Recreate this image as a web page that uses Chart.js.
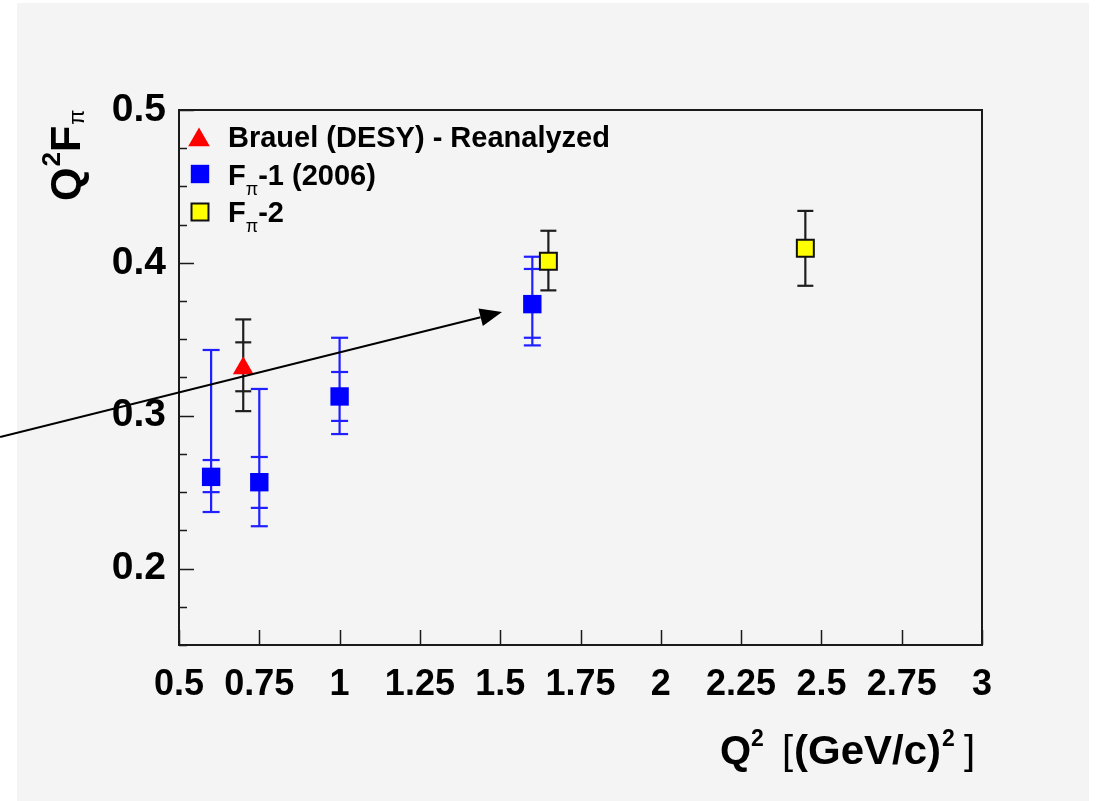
<!DOCTYPE html>
<html><head><meta charset="utf-8">
<script src="https://cdn.jsdelivr.net/npm/chart.js@4/dist/chart.umd.min.js"></script>
<style>html,body{margin:0;padding:0;background:#fff;overflow:hidden}canvas{display:block}</style>
</head><body>
<div style="width:1097px;height:801px"><canvas id="c" width="1097" height="801"></canvas></div>
<script>
// ---- data ----
const brauelX = [0.70];
const brauelY = [0.331];
const brauelStatLo = [0.316], brauelStatHi = [0.348];
const brauelTotLo = [0.303], brauelTotHi = [0.363];

const fpi1X = [0.60, 0.75, 1.00, 1.60];
const fpi1Y = [0.260, 0.2565, 0.3126, 0.373];
const fpi1StatLo = [0.250, 0.2397, 0.2966, 0.351];
const fpi1StatHi = [0.271, 0.273, 0.3286, 0.396];
const fpi1TotLo = [0.237, 0.2277, 0.288, 0.346];
const fpi1TotHi = [0.343, 0.3175, 0.351, 0.404];

const fpi2X = [1.65, 2.45];
const fpi2Y = [0.401, 0.4096];
const fpi2TotLo = [0.382, 0.385];
const fpi2TotHi = [0.421, 0.434];

const xTickValues = [0.5, 0.75, 1, 1.25, 1.5, 1.75, 2, 2.25, 2.5, 2.75, 3];
const xTickLabels = ['0.5', '0.75', '1', '1.25', '1.5', '1.75', '2', '2.25', '2.5', '2.75', '3'];
const yTickValues = [0.2, 0.3, 0.4, 0.5];
const yTickLabels = ['0.2', '0.3', '0.4', '0.5'];
const yMinorStep = 0.025;

const arrowStart = [-0.057, 0.2861];
const arrowEnd = [1.5056, 0.3679];

const legendLabels = ['Brauel (DESY) - Reanalyzed', 'F|π|-1 (2006)', 'F|π|-2'];

const FONT = "'Liberation Sans', Arial, Helvetica, sans-serif";

function pts(xs, ys) { return xs.map((x, i) => ({ x: x, y: ys[i] })); }

function vbar(ctx, xs, ys, x, lo, hi) {
  const px = xs.getPixelForValue(x);
  ctx.beginPath();
  ctx.moveTo(px, ys.getPixelForValue(lo));
  ctx.lineTo(px, ys.getPixelForValue(hi));
  ctx.stroke();
}
function cap(ctx, xs, ys, x, v, half) {
  const px = xs.getPixelForValue(x), py = ys.getPixelForValue(v);
  ctx.beginPath();
  ctx.moveTo(px - half, py);
  ctx.lineTo(px + half, py);
  ctx.stroke();
}

function drawMarker(ctx, style, x, y, r, fill, stroke, lw) {
  ctx.save();
  ctx.fillStyle = fill;
  ctx.beginPath();
  if (style === 'triangle') {
    for (let k = 0; k < 3; k++) {
      const a = -Math.PI / 2 + k * 2 * Math.PI / 3;
      const px = x + r * Math.cos(a), py = y + r * Math.sin(a);
      if (k === 0) ctx.moveTo(px, py); else ctx.lineTo(px, py);
    }
    ctx.closePath();
  } else {
    const s = Math.SQRT1_2 * r;
    ctx.rect(x - s, y - s, 2 * s, 2 * s);
  }
  ctx.fill();
  if (lw) { ctx.lineWidth = lw; ctx.strokeStyle = stroke; ctx.stroke(); }
  ctx.restore();
}

function richText(ctx, text, x, y, big, small, weight) {
  const parts = text.split('|');
  let cx = x;
  parts.forEach((p, i) => {
    if (i % 2 === 1) {
      ctx.font = 'normal ' + small + 'px ' + FONT;
      ctx.fillText(p, cx, y + small * 0.55);
    } else {
      ctx.font = weight + ' ' + big + 'px ' + FONT;
      ctx.fillText(p, cx, y);
    }
    cx += ctx.measureText(p).width;
  });
}

const custom = {
  id: 'custom',
  beforeDraw(chart) {
    const c = chart.ctx;
    c.save();
    c.fillStyle = '#ffffff';
    c.fillRect(0, 0, chart.width, chart.height);
    c.fillStyle = '#f4f4f4';
    c.fillRect(17, 3, 1072, 798);
    c.restore();
  },
  beforeDatasetsDraw(chart) {
    const c = chart.ctx, xs = chart.scales.x, ys = chart.scales.y;
    c.save();
    c.lineWidth = 2.2;
    // Brauel error bars (black)
    c.strokeStyle = '#1e1e1e';
    brauelX.forEach((x, i) => {
      vbar(c, xs, ys, x, brauelTotLo[i], brauelTotHi[i]);
      [brauelTotLo[i], brauelTotHi[i], brauelStatLo[i], brauelStatHi[i]].forEach(v => cap(c, xs, ys, x, v, 8));
    });
    // F_pi-1 error bars (blue)
    c.strokeStyle = '#1f1fff';
    fpi1X.forEach((x, i) => {
      vbar(c, xs, ys, x, fpi1TotLo[i], fpi1TotHi[i]);
      [fpi1TotLo[i], fpi1TotHi[i], fpi1StatLo[i], fpi1StatHi[i]].forEach(v => cap(c, xs, ys, x, v, 8.5));
    });
    // F_pi-2 error bars (black)
    c.strokeStyle = '#1e1e1e';
    fpi2X.forEach((x, i) => {
      vbar(c, xs, ys, x, fpi2TotLo[i], fpi2TotHi[i]);
      [fpi2TotLo[i], fpi2TotHi[i]].forEach(v => cap(c, xs, ys, x, v, 8));
    });
    c.restore();
  },
  afterDatasetsDraw(chart) {
    const c = chart.ctx, xs = chart.scales.x, ys = chart.scales.y, a = chart.chartArea;
    c.save();
    // frame
    c.strokeStyle = '#1a1a1a';
    c.lineWidth = 2;
    c.strokeRect(a.left, a.top, a.right - a.left, a.bottom - a.top);
    // x ticks
    c.lineWidth = 1.5;
    xTickValues.forEach(v => {
      const px = Math.round(xs.getPixelForValue(v)) + 0.5;
      c.beginPath(); c.moveTo(px, a.bottom); c.lineTo(px, a.bottom - 15); c.stroke();
    });
    // y ticks (major + minor)
    const nMinor = Math.round((ys.max - ys.min) / yMinorStep);
    for (let k = 0; k <= nMinor; k++) {
      const v = ys.min + k * yMinorStep;
      const major = yTickValues.some(t => Math.abs(t - v) < 1e-6);
      const py = Math.round(ys.getPixelForValue(v)) + 0.5;
      c.beginPath(); c.moveTo(a.left, py); c.lineTo(a.left + (major ? 15 : 8), py); c.stroke();
    }
    // legend
    drawMarker(c, 'triangle', 199, 140, 12.5, '#ff0000');
    drawMarker(c, 'rect', 200, 174, 13, '#0000ff');
    drawMarker(c, 'rect', 200, 212, 12, '#ffff00', '#111', 2);
    c.fillStyle = '#000';
    c.textBaseline = 'alphabetic';
    richText(c, legendLabels[0], 228, 147, 29, 18, 'bold');
    richText(c, legendLabels[1], 228, 185, 29, 18, 'bold');
    richText(c, legendLabels[2], 228, 222, 29, 18, 'bold');
    // arrow
    const x0 = xs.getPixelForValue(arrowStart[0]), y0 = ys.getPixelForValue(arrowStart[1]);
    const x1 = xs.getPixelForValue(arrowEnd[0]), y1 = ys.getPixelForValue(arrowEnd[1]);
    const ang = Math.atan2(y1 - y0, x1 - x0);
    const hl = 22, hw = 9;
    const bx = x1 - hl * Math.cos(ang), by = y1 - hl * Math.sin(ang);
    c.strokeStyle = '#000';
    c.lineWidth = 2;
    c.beginPath(); c.moveTo(x0, y0); c.lineTo(bx, by); c.stroke();
    c.fillStyle = '#000';
    c.beginPath();
    c.moveTo(x1, y1);
    c.lineTo(bx + hw * Math.sin(ang), by - hw * Math.cos(ang));
    c.lineTo(bx - hw * Math.sin(ang), by + hw * Math.cos(ang));
    c.closePath(); c.fill();
    // x title
    c.fillStyle = '#000';
    const base = 764;
    c.font = 'bold 40px ' + FONT; c.fillText('Q', 720, base);
    c.font = 'bold 23px ' + FONT; c.fillText('2', 751, base - 18);
    c.font = 'normal 40px ' + FONT; c.fillText('[', 782, base);
    c.save();
    c.translate(794, base); c.scale(1.05, 1);
    c.font = 'bold 40px ' + FONT; c.fillText('(GeV/c)', 0, 0);
    const gw = c.measureText('(GeV/c)').width * 1.05;
    c.restore();
    c.font = 'bold 23px ' + FONT; c.fillText('2', 794 + gw + 1, base - 18);
    c.font = 'normal 40px ' + FONT; c.fillText(']', 964, base);
    // y title (rotated)
    c.save();
    c.translate(80, 201);
    c.rotate(-Math.PI / 2);
    let ty = 0;
    c.font = 'bold 43px ' + FONT; c.fillText('Q', ty, 0); ty += c.measureText('Q').width + 1;
    c.font = 'bold 26px ' + FONT; c.fillText('2', ty, -20); ty += c.measureText('2').width;
    c.font = 'bold 43px ' + FONT; c.fillText('F', ty, 0); ty += c.measureText('F').width + 1;
    c.font = 'normal 22px ' + FONT; c.fillText('π', ty, 4);
    c.restore();
    c.restore();
  }
};

new Chart(document.getElementById('c'), {
  type: 'scatter',
  data: {
    datasets: [
      { label: legendLabels[0], data: pts(brauelX, brauelY), pointStyle: 'triangle', pointRadius: 12,
        backgroundColor: '#ff0000', borderColor: '#ff0000', borderWidth: 0 },
      { label: legendLabels[1], data: pts(fpi1X, fpi1Y), pointStyle: 'rect', pointRadius: 13,
        backgroundColor: '#0000ff', borderColor: '#0000ff', borderWidth: 0 },
      { label: legendLabels[2], data: pts(fpi2X, fpi2Y), pointStyle: 'rect', pointRadius: 12,
        backgroundColor: '#ffff00', borderColor: '#111111', borderWidth: 2 }
    ]
  },
  options: {
    responsive: false,
    animation: false,
    events: [],
    layout: { padding: { top: 110, right: 115, left: 0, bottom: 0 } },
    plugins: { legend: { display: false }, tooltip: { enabled: false } },
    scales: {
      x: {
        type: 'linear', min: 0.5, max: 3,
        afterBuildTicks: s => { s.ticks = xTickValues.map(v => ({ value: v })); },
        afterFit: s => { s.height = 156; },
        grid: { display: false, drawTicks: false },
        border: { display: false },
        ticks: {
          autoSkip: false, maxRotation: 0, padding: 18, color: '#000',
          font: { family: FONT, size: 36, weight: 'bold' },
          callback: v => { const i = xTickValues.findIndex(t => Math.abs(t - v) < 1e-6); return i >= 0 ? xTickLabels[i] : ''; }
        }
      },
      y: {
        type: 'linear', min: 0.15, max: 0.5,
        afterBuildTicks: s => { s.ticks = yTickValues.map(v => ({ value: v })); },
        afterFit: s => { s.width = 179; },
        grid: { display: false, drawTicks: false },
        border: { display: false },
        ticks: {
          autoSkip: false, padding: 13, color: '#000',
          font: { family: FONT, size: 39, weight: 'bold' },
          callback: v => { const i = yTickValues.findIndex(t => Math.abs(t - v) < 1e-6); return i >= 0 ? yTickLabels[i] : ''; }
        }
      }
    }
  },
  plugins: [custom]
});
</script>
</body></html>
